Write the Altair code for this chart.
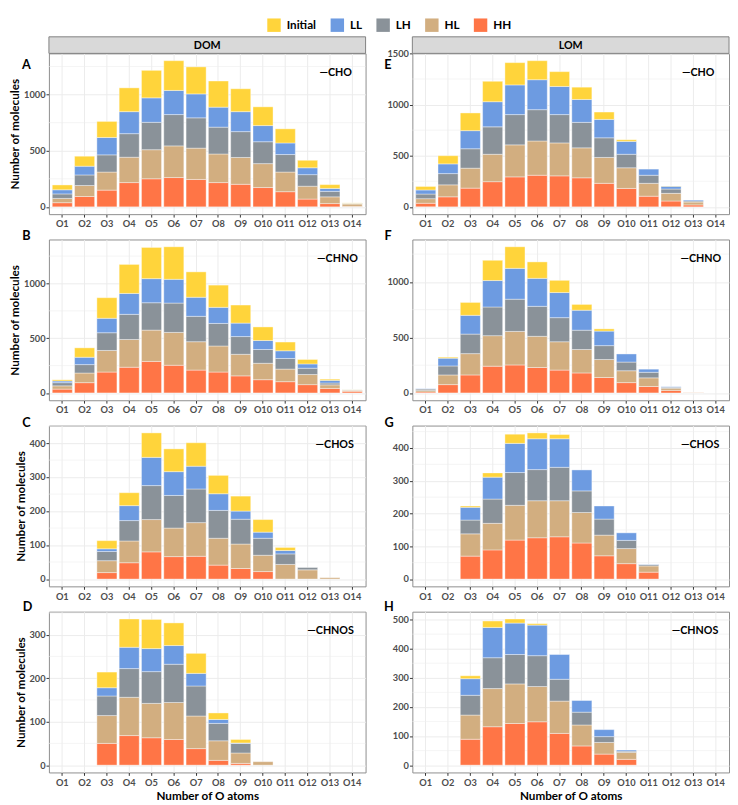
import altair as alt
import pandas as pd

orders = ["O%d" % i for i in range(1, 15)]
series = ["Initial", "LL", "LH", "HL", "HH"]
colors = ["#FFD43B", "#6D9BE1", "#8A9299", "#D2AE80", "#FF7546"]

# A: DOM, CHO
A_HH = [37, 92, 149, 216, 250, 261, 244, 216, 201, 172, 135, 69, 29, 3]
A_HL = [38, 98, 161, 226, 259, 282, 279, 255, 239, 213, 175, 115, 60, 22]
A_LH = [40, 94, 153, 210, 244, 279, 270, 239, 230, 195, 156, 103, 49, 5]
A_LL = [37, 78, 155, 196, 218, 215, 213, 178, 178, 144, 103, 61, 26, 2]
A_IN = [43, 89, 143, 212, 245, 265, 241, 233, 204, 167, 126, 66, 34, 3]
# E: LOM, CHO
E_HH = [35, 98, 183, 246, 293, 309, 303, 284, 230, 180, 104, 57, 19, 0]
E_HL = [45, 117, 195, 268, 313, 335, 322, 293, 253, 202, 126, 75, 28, 0]
E_LH = [45, 110, 190, 268, 296, 306, 277, 249, 192, 132, 79, 42, 10, 0]
E_LL = [40, 95, 177, 246, 290, 293, 275, 224, 180, 126, 60, 28, 9, 0]
E_IN = [35, 80, 173, 199, 218, 186, 145, 120, 72, 16, 0, 3, 0, 0]
# B: DOM, CHNO
B_HH = [35, 94, 191, 235, 288, 253, 209, 191, 156, 121, 103, 76, 41, 15]
B_HL = [30, 88, 197, 253, 286, 300, 259, 238, 197, 150, 115, 92, 33, 11]
B_LH = [29, 77, 162, 230, 250, 268, 232, 206, 162, 126, 97, 58, 17, 2]
B_LL = [15, 67, 132, 191, 220, 217, 174, 147, 123, 82, 70, 39, 24, 1]
B_IN = [11, 86, 188, 265, 285, 297, 232, 203, 165, 124, 80, 41, 11, 1]
# F: LOM, CHNO
F_HH = [9, 75, 162, 241, 252, 229, 206, 180, 139, 93, 58, 23, 2, 0]
F_HL = [14, 87, 192, 275, 302, 281, 255, 211, 162, 107, 78, 20, 2, 0]
F_LH = [12, 81, 176, 258, 290, 270, 217, 174, 125, 78, 50, 9, 0, 0]
F_LL = [3, 70, 169, 238, 278, 252, 226, 180, 131, 73, 28, 3, 0, 0]
F_IN = [0, 9, 116, 182, 194, 148, 110, 52, 20, 0, 0, 0, 0, 0]
# C: DOM, CHOS
C_HH = [0, 0, 19, 48, 80, 66, 67, 41, 31, 22, 0, 0, 0, 0]
C_HL = [0, 0, 35, 64, 95, 84, 99, 79, 72, 48, 43, 27, 4, 0]
C_LH = [0, 0, 27, 60, 100, 96, 99, 82, 73, 50, 31, 7, 0, 0]
C_LL = [0, 0, 8, 44, 83, 70, 67, 49, 24, 18, 10, 0, 0, 0]
C_IN = [0, 0, 24, 38, 72, 67, 69, 54, 44, 37, 9, 0, 0, 0]
# G: LOM, CHOS
G_HH = [0, 0, 70, 89, 119, 126, 129, 110, 71, 47, 21, 0, 0, 0]
G_HL = [0, 0, 68, 81, 106, 113, 110, 93, 63, 46, 19, 0, 0, 0]
G_LH = [0, 0, 42, 74, 100, 95, 102, 66, 49, 25, 4, 0, 0, 0]
G_LL = [0, 0, 39, 67, 89, 94, 87, 64, 40, 23, 1, 0, 0, 0]
G_IN = [0, 0, 4, 13, 28, 18, 13, 0, 0, 0, 0, 0, 0, 0]
# D: DOM, CHNOS
D_HH = [0, 0, 50, 68, 63, 59, 38, 11, 4, 0, 0, 0, 0, 0]
D_HL = [0, 0, 64, 88, 79, 85, 75, 45, 24, 8, 0, 0, 0, 0]
D_LH = [0, 0, 45, 66, 73, 88, 69, 40, 22, 0, 0, 0, 0, 0]
D_LL = [0, 0, 19, 49, 53, 43, 29, 9, 1, 0, 0, 0, 0, 0]
D_IN = [0, 0, 36, 65, 67, 52, 46, 15, 8, 0, 0, 0, 0, 0]
# H: LOM, CHNOS
H_HH = [0, 0, 89, 132, 143, 149, 109, 66, 38, 20, 0, 0, 0, 0]
H_HL = [0, 0, 83, 131, 136, 121, 111, 72, 40, 24, 0, 0, 0, 0]
H_LH = [0, 0, 68, 106, 101, 106, 75, 44, 20, 4, 0, 0, 0, 0]
H_LL = [0, 0, 57, 104, 108, 105, 85, 40, 24, 4, 0, 0, 0, 0]
H_IN = [0, 0, 10, 22, 14, 5, 0, 0, 0, 0, 0, 0, 0, 0]

FONT = "Lato"
W = 325
H = 165

rank = {"HH": 0, "HL": 1, "LH": 2, "LL": 3, "Initial": 4}


def build(vals):
    rows = []
    for s, arr in vals.items():
        for o, v in zip(orders, arr):
            if v > 0:
                rows.append({"O": o, "series": s, "value": v, "rank": rank[s]})
    return pd.DataFrame(rows)


legend = alt.Legend(orient="none", legendX=224, legendY=-36, direction="horizontal",
                    title=None, symbolType="square", symbolSize=190, symbolStrokeWidth=0,
                    symbolOpacity=1, labelFont=FONT, labelFontWeight="bold", labelFontSize=12,
                    labelColor="black", columnPadding=14, labelOffset=6, padding=0)


def panel(letter, lpos, vals, step, tag, tag_right, strip, ytitle, xtitle):
    df = build(vals)
    tot = [sum(col) for col in zip(*vals.values())]
    mx = max(tot)
    lo, hi = -0.05 * mx, 1.05 * mx
    scale = alt.Scale(domain=[lo, hi], nice=False, zero=False)
    major = [v for v in range(0, int(hi) + 1, step)]
    minor = [m + step / 2 for m in range(-step, int(hi) + 1, step) if lo < m + step / 2 < hi]
    yaxis = alt.Axis(values=major, grid=True, format="d",
                     title="Number of molecules" if ytitle else None,
                     titlePadding=2, labelPadding=1)

    bars = alt.Chart(df).mark_bar(stroke="white", strokeWidth=0.4).encode(
        x=alt.X("O:N", sort=orders,
                scale=alt.Scale(domain=orders, paddingInner=0.1, paddingOuter=0.15),
                axis=alt.Axis(title="Number of O atoms" if xtitle else None, labelAngle=0,
                              grid=True, labelOverlap=False, labelPadding=2, titlePadding=4)),
        y=alt.Y("value:Q", stack="zero", scale=scale, axis=yaxis),
        color=alt.Color("series:N", scale=alt.Scale(domain=series, range=colors),
                        legend=legend),
        order=alt.Order("rank:Q", sort="ascending"),
    )

    minor_layer = alt.Chart(pd.DataFrame({"v": minor})).mark_rule(
        color="#EDEDED", strokeWidth=0.6).encode(
        y=alt.Y("v:Q", scale=scale, axis=yaxis))

    tag_layer = alt.Chart(pd.DataFrame({"t": [tag]})).mark_text(
        align="right", baseline="middle", font=FONT, fontWeight="bold", fontSize=11,
        color="black").encode(text="t:N", x=alt.value(W - tag_right), y=alt.value(20))

    letter_layer = alt.Chart(pd.DataFrame({"t": [letter]})).mark_text(
        align="center", baseline="middle", font=FONT, fontWeight="bold", fontSize=13,
        color="black").encode(text="t:N", x=alt.value(lpos[0]), y=alt.value(lpos[1]))

    layers = [minor_layer, bars, tag_layer, letter_layer]
    if strip:
        rect = alt.Chart(pd.DataFrame({"t": [strip]})).mark_rect(
            fill="#D9D9D9", stroke="#7F7F7F", strokeWidth=1).encode(
            x=alt.value(0), x2=alt.value(W), y=alt.value(-17), y2=alt.value(0))
        stxt = alt.Chart(pd.DataFrame({"t": [strip]})).mark_text(
            align="center", baseline="middle", font=FONT, fontWeight="bold", fontSize=11,
            color="black").encode(text="t:N", x=alt.value(W / 2), y=alt.value(-8))
        layers += [rect, stxt]
    return alt.layer(*layers).properties(width=W, height=H)


def vals(hh, hl, lh, ll, ini):
    return {"HH": hh, "HL": hl, "LH": lh, "LL": ll, "Initial": ini}


left = alt.vconcat(
    panel("A", (-23, 12), vals(A_HH, A_HL, A_LH, A_LL, A_IN), 500, "—CHO", 14, "DOM", True, False),
    panel("B", (-23, -3), vals(B_HH, B_HL, B_LH, B_LL, B_IN), 500, "—CHNO", 8, None, True, False),
    panel("C", (-23, -3), vals(C_HH, C_HL, C_LH, C_LL, C_IN), 100, "—CHOS", 12, None, True, False),
    panel("D", (-22, -5), vals(D_HH, D_HL, D_LH, D_LL, D_IN), 100, "—CHNOS", 12, None, True, True),
    spacing=26, bounds="flush")

right = alt.vconcat(
    panel("E", (-25, 12), vals(E_HH, E_HL, E_LH, E_LL, E_IN), 500, "—CHO", 15, "LOM", False, False),
    panel("F", (-25, -3), vals(F_HH, F_HL, F_LH, F_LL, F_IN), 500, "—CHNO", 8, None, False, False),
    panel("G", (-24, -3), vals(G_HH, G_HL, G_LH, G_LL, G_IN), 100, "—CHOS", 10, None, False, False),
    panel("H", (-24, -5), vals(H_HH, H_HL, H_LH, H_LL, H_IN), 100, "—CHNOS", 11, None, False, True),
    spacing=26, bounds="flush")

chart = alt.hconcat(left, right, spacing=17).properties(
    padding={"left": 0, "top": 0, "right": 0, "bottom": 0}
).configure_axis(
    labelFont=FONT, labelFontWeight="bold", labelColor="#4D4D4D", labelFontSize=9.5,
    titleFont=FONT, titleFontWeight="bold", titleFontSize=12, titleColor="black",
    tickColor="#333333", tickSize=3, domain=False, gridColor="#EBEBEB", gridWidth=1,
).configure_view(stroke="#8C8C8C", strokeWidth=1)

chart.save("out.html", embed_options={"renderer": "svg", "actions": False})
